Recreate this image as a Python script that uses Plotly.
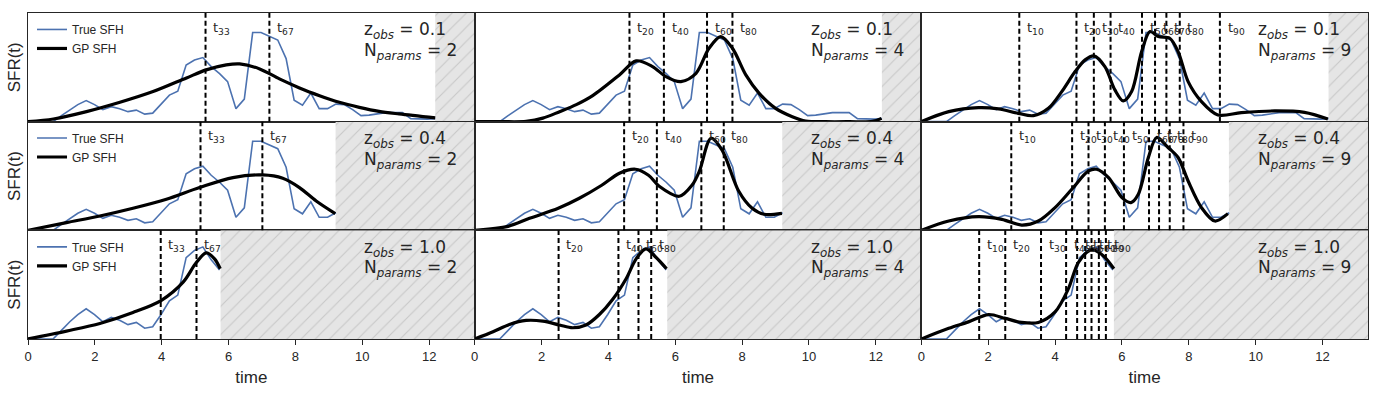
import plotly.graph_objs as go
from plotly.subplots import make_subplots

# observed redshifts (rows) and number of SFH params (cols)
z_obs = [0.1, 0.4, 1.0]
n_params = [2, 4, 9]
# age of universe at each z_obs, beyond that the panel is hatched
t_obs = [12.18, 9.2, 5.76]
t_max = 13.36
# y-limits of each row (true SFH units)
ymax_row = [108.5, 108.5, 75.5]

true_t = [0.0, 0.25, 0.5, 0.75, 1.0, 1.25, 1.49, 1.74, 1.99, 2.24, 2.49, 2.74, 2.99,
          3.24, 3.49, 3.73, 3.98, 4.23, 4.48, 4.73, 4.98, 5.23, 5.48, 5.73, 5.97, 6.22,
          6.47, 6.72, 6.97, 7.22, 7.47, 7.72, 7.96, 8.21, 8.46, 8.71, 8.96, 9.21, 9.46,
          9.71, 9.96, 10.2, 10.45, 10.7, 10.95, 11.2, 11.45, 11.7, 11.95, 12.18]
true_sfr = [0, 0, 0, 0, 6, 12, 17, 21, 17, 12, 15, 13, 10, 11.5, 7.5, 8.5, 17, 26.5,
            30.5, 56.5, 61.5, 64, 55, 48, 40, 13, 22.5, 89, 89, 85, 81.5, 63, 21.5,
            16.5, 28.5, 13, 13, 17.5, 17, 12, 6, 6.5, 8, 9, 9, 9, 3, 2.5, 2.5, 3]

# GP reconstructions, gp_t[row][col], gp_sfr[row][col]
gp_t = [
    [[0, 0.76, 1.75, 2.75, 3.74, 4.74, 5.33, 5.93, 6.33, 6.93, 7.52, 8.12, 8.72, 9.31, 9.91, 10.5, 11.1, 12.18],
     [0, 0.8, 1.54, 2.04, 2.54, 3.04, 3.53, 4.33, 4.83, 5.32, 5.72, 6.17, 6.62, 7.01, 7.36, 7.71, 8.11, 8.51, 9.0, 9.5, 9.9, 10.5, 11.2, 11.9, 12.17],
     [0, 0.82, 1.71, 2.31, 2.9, 3.35, 3.8, 4.2, 4.6, 4.9, 5.16, 5.49, 5.79, 6.04, 6.29, 6.59, 6.84, 7.09, 7.43, 7.68, 7.98, 8.38, 8.87, 9.57, 10.57, 11.46, 12.16]],
    [[0, 1.15, 2.15, 3.14, 4.14, 5.13, 6.13, 7.02, 7.62, 8.12, 8.62, 9.19],
     [0, 1.0, 1.64, 2.5, 3.13, 3.8, 4.33, 4.81, 5.2, 5.52, 6.12, 6.5, 6.72, 7.07, 7.4, 7.9, 8.3, 8.66, 9.19],
     [0, 0.82, 1.71, 2.41, 3.0, 3.5, 4.0, 4.5, 5.0, 5.24, 5.6, 6.0, 6.27, 6.49, 6.79, 7.04, 7.38, 7.68, 7.98, 8.38, 8.78, 9.17]],
    [[0, 1.15, 2.15, 3.14, 3.99, 4.64, 5.04, 5.33, 5.58, 5.75],
     [0, 0.55, 1.04, 1.54, 2.04, 2.54, 2.93, 3.33, 3.73, 4.13, 4.53, 4.83, 5.12, 5.42, 5.74],
     [0, 0.82, 1.41, 2.01, 2.51, 3.0, 3.5, 4.0, 4.4, 4.7, 5.1, 5.44, 5.76]],
]
gp_sfr = [
    [[0, 2.7, 10, 19.3, 30, 43.7, 51.7, 56.7, 57.7, 52.7, 42.7, 33.7, 26, 19.3, 14.3, 10.3, 7.7, 3.7],
     [0, 0, 0.3, 3.5, 10, 17, 26, 46.7, 60.7, 55, 45, 40, 48.3, 73.3, 85, 73.3, 46.7, 28.3, 13.3, 5, 0.7, 0, 0, 0.3, 3.3],
     [0, 10, 14, 12.7, 8.3, 6, 13.3, 30, 50, 61.7, 65.7, 55, 31.7, 20.7, 30, 70, 90, 85, 83.3, 70, 40, 20, 6.7, 9, 10.7, 9.3, 2.7]],
    [[0, 7.7, 14.3, 22, 31, 42.7, 52.7, 55.3, 52, 42.7, 29.3, 16.7],
     [0, 4, 12, 22, 32, 45, 57, 61, 55, 44, 34, 45, 59, 92, 80, 39, 22, 16, 17],
     [0, 9.3, 13.7, 11, 5.3, 9.3, 22.7, 41, 59.3, 61, 52.7, 32.7, 27.7, 36, 72.7, 92.7, 82.7, 72.7, 49.3, 22.7, 9.3, 16.7]],
    [[0, 5.5, 10.8, 18.4, 26.9, 39.5, 53.3, 59.8, 55.7, 48.8],
     [0, 5.0, 10.1, 12.9, 12.4, 9.7, 7.8, 9.7, 17.0, 27.6, 41.9, 55.7, 62.6, 56.8, 48.8],
     [0, 7.4, 11.9, 17.0, 14.3, 11.5, 11.5, 18.8, 35.0, 53.3, 62.1, 57.9, 48.8]],
]

# percentile times of the GP SFH
pct_labels = [[33, 67], [20, 40, 60, 80], [10, 20, 30, 40, 50, 60, 70, 80, 90]]
pct_t = [
    [[5.31, 7.22], [4.63, 5.66, 6.95, 7.71], [2.93, 4.64, 5.16, 5.66, 6.6, 6.99, 7.33, 7.73, 8.93]],
    [[5.16, 7.01], [4.47, 5.45, 6.78, 7.45], [2.69, 4.51, 5.0, 5.49, 6.06, 6.81, 7.11, 7.43, 7.84]],
    [[3.97, 5.04], [2.51, 4.3, 4.9, 5.28], [1.73, 2.51, 3.58, 4.33, 4.66, 4.9, 5.09, 5.31, 5.52]],
]

TXT = '#262626'
BLUE = '#4c72b0'
MATH = 'DejaVu Sans'

fig = make_subplots(rows=3, cols=3, horizontal_spacing=0, vertical_spacing=0)

for r in range(3):
    ymax = ymax_row[r]
    age = t_obs[r]
    for c in range(3):
        n = r * 3 + c + 1
        leg = 'legend' if r == 0 else 'legend%d' % (r + 1)
        first = (c == 0)

        # hatched region after the age of the universe
        fig.add_trace(go.Scatter(x=[age, t_max, t_max, age, age], y=[0, 0, ymax, ymax, 0],
                                 mode='lines', fill='toself', line=dict(width=0),
                                 fillcolor='#e5e5e5',
                                 fillpattern=dict(shape='/', bgcolor='#e5e5e5', fgcolor='#c8c8c8',
                                                  size=10, solidity=0.1),
                                 hoverinfo='skip', showlegend=False), r + 1, c + 1)

        tt = [t for t in true_t if t <= age + 0.02]
        ss = true_sfr[:len(tt)]
        fig.add_trace(go.Scatter(x=tt, y=ss, mode='lines', name='True SFH',
                                 line=dict(color=BLUE, width=1.6),
                                 showlegend=first, legend=leg), r + 1, c + 1)
        fig.add_trace(go.Scatter(x=gp_t[r][c], y=gp_sfr[r][c], mode='lines', name='GP SFH',
                                 line=dict(color='black', width=3.2, shape='spline', smoothing=0.9),
                                 showlegend=first, legend=leg), r + 1, c + 1)

        xa = 'x' if n == 1 else 'x%d' % n
        ya = 'y' if n == 1 else 'y%d' % n
        for p, lab in zip(pct_t[r][c], pct_labels[c]):
            fig.add_shape(type='line', xref=xa, yref=ya + ' domain', x0=p, x1=p, y0=0, y1=1,
                          line=dict(color='black', width=2, dash='5px,3px'))
            fig.add_annotation(xref=xa, yref=ya + ' domain', x=p + 0.17, y=0.86,
                               text='t<sub>%d</sub>' % lab, showarrow=False,
                               xanchor='left', yanchor='middle',
                               font=dict(family=MATH, size=13, color=TXT))
        fig.add_annotation(xref=xa, yref=ya + ' domain', x=10.0, y=0.835,
                           text='z<sub><i>obs</i></sub> = %.1f' % z_obs[r], showarrow=False,
                           xanchor='left', yanchor='middle',
                           font=dict(family=MATH, size=17, color=TXT))
        fig.add_annotation(xref=xa, yref=ya + ' domain', x=10.0, y=0.645,
                           text='N<sub><i>params</i></sub> = %d' % n_params[c], showarrow=False,
                           xanchor='left', yanchor='middle',
                           font=dict(family=MATH, size=17, color=TXT))

        fig.update_xaxes(range=[0, t_max], dtick=2, showgrid=False, zeroline=False,
                         showline=True, mirror=True, linecolor=TXT, linewidth=1.3,
                         ticks='outside' if r == 2 else '', ticklen=5, tickcolor=TXT,
                         showticklabels=(r == 2), tickfont=dict(size=13, color=TXT),
                         automargin=False, row=r + 1, col=c + 1)
        fig.update_yaxes(range=[0, ymax], showgrid=False, zeroline=False,
                         showline=True, mirror=True, linecolor=TXT, linewidth=1.3,
                         showticklabels=False, ticks='', automargin=False,
                         row=r + 1, col=c + 1)
        if r == 2:
            fig.update_xaxes(title=dict(text='time', font=dict(size=17, color=TXT), standoff=8),
                             row=r + 1, col=c + 1)
        if c == 0:
            fig.update_yaxes(title=dict(text='SFR(t)', font=dict(size=17, color=TXT), standoff=1),
                             row=r + 1, col=c + 1)

legend_style = dict(x=0.003, xanchor='left', yanchor='top', bgcolor='rgba(0,0,0,0)',
                    font=dict(size=12, color=TXT), tracegroupgap=0)
fig.update_layout(
    template='none',
    width=1380, height=394,
    margin=dict(l=28, r=12, t=13, b=55),
    paper_bgcolor='white', plot_bgcolor='white',
    font=dict(family='Liberation Sans, Arial, sans-serif', color=TXT),
    legend=dict(y=0.994, **legend_style),
    legend2=dict(y=0.661, **legend_style),
    legend3=dict(y=0.327, **legend_style),
)

# page body margin would shift the whole figure
fig.write_html("out.html", config={'displayModeBar': False},
               post_script="document.body.style.margin='0';")
